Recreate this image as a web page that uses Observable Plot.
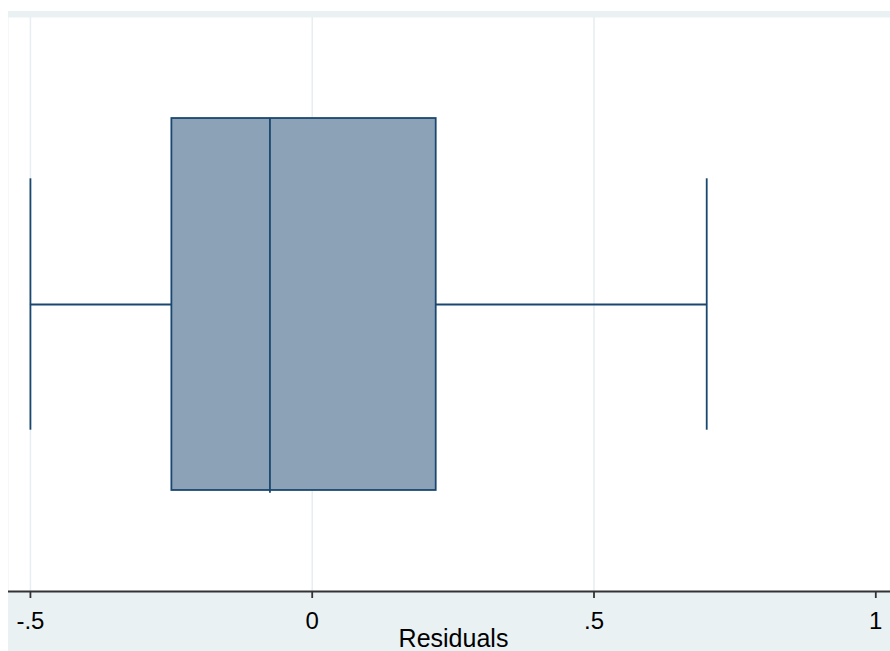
<!DOCTYPE html>
<html>
<head>
<meta charset="utf-8">
<script src="https://cdn.jsdelivr.net/npm/d3@7"></script>
<script src="https://cdn.jsdelivr.net/npm/@observablehq/plot@0.6"></script>
<style>
  html, body { margin: 0; padding: 0; background: #ffffff; }
  #chart { padding: 11px 0 0 8px; }
</style>
</head>
<body>
<div id="chart"></div>
<script>
// Box plot summary of the residuals
const series = ["Residuals"];
const whiskerLow = [-0.50];
const quartile1 = [-0.249];
const median = [-0.075];
const quartile3 = [0.22];
const whiskerHigh = [0.70];

// Axis ticks and their labels
const tickValues = [-0.5, 0, 0.5, 1];
const tickLabels = ["-.5", "0", ".5", "1"];
const gridValues = [-0.5, 0, 0.5];

const rows = series.map((name, i) => ({
  name,
  lo: whiskerLow[i],
  q1: quartile1[i],
  med: median[i],
  q3: quartile3[i],
  hi: whiskerHigh[i]
}));

// vertical layout of the single box (fractions of the plot height)
const mid = 0.5;
const boxHalf = 0.324;
const capHalf = 0.219;

const navy = "#1a476f";
const boxFill = "#8ca3b7";
const bg = "#eaf1f3";
const fontFamily = "'Liberation Sans', Arial, Helvetica, sans-serif";

const labelOf = new Map(tickValues.map((v, i) => [v, tickLabels[i]]));

const chart = Plot.plot({
  width: 882,
  height: 640,
  marginTop: 6,
  marginBottom: 60,
  marginLeft: 0,
  marginRight: 0,
  style: { background: bg, fontFamily, color: "#000", overflow: "visible" },
  x: { domain: [-0.5389, 1.0261] },
  y: { domain: [0, 1], axis: null },
  marks: [
    Plot.frame({ fill: "#ffffff", stroke: "none" }),
    Plot.gridX(gridValues, { stroke: "#e6eeef", strokeOpacity: 1, strokeWidth: 1.5 }),
    // whiskers
    Plot.ruleY(rows, { y: () => mid, x1: "lo", x2: "q1", stroke: navy, strokeWidth: 1.8 }),
    Plot.ruleY(rows, { y: () => mid, x1: "q3", x2: "hi", stroke: navy, strokeWidth: 1.8 }),
    Plot.ruleX(rows, { x: "lo", y1: () => mid - capHalf, y2: () => mid + capHalf, stroke: navy, strokeWidth: 1.8 }),
    Plot.ruleX(rows, { x: "hi", y1: () => mid - capHalf, y2: () => mid + capHalf, stroke: navy, strokeWidth: 1.8 }),
    // interquartile box and median
    Plot.rect(rows, {
      x1: "q1", x2: "q3",
      y1: () => mid - boxHalf, y2: () => mid + boxHalf,
      fill: boxFill, stroke: navy, strokeWidth: 1.8
    }),
    Plot.ruleX(rows, { x: "med", y1: () => mid - boxHalf - 0.005, y2: () => mid + boxHalf, stroke: navy, strokeWidth: 1.8 }),
    // axis line, ticks and title
    Plot.ruleY([0], { stroke: "#333333", strokeWidth: 1.8 }),
    Plot.axisX(tickValues, {
      tickFormat: (d) => labelOf.get(d),
      tickSize: 7,
      tickPadding: 13,
      fontSize: 24,
      stroke: "#333333",
      strokeWidth: 1.8,
      fill: "#000",
      label: null
    }),
    Plot.text(series, {
      frameAnchor: "bottom",
      dy: 55,
      dx: 4,
      fontSize: 25,
      fill: "#000"
    })
  ]
});

document.getElementById("chart").appendChild(chart);
</script>
</body>
</html>
